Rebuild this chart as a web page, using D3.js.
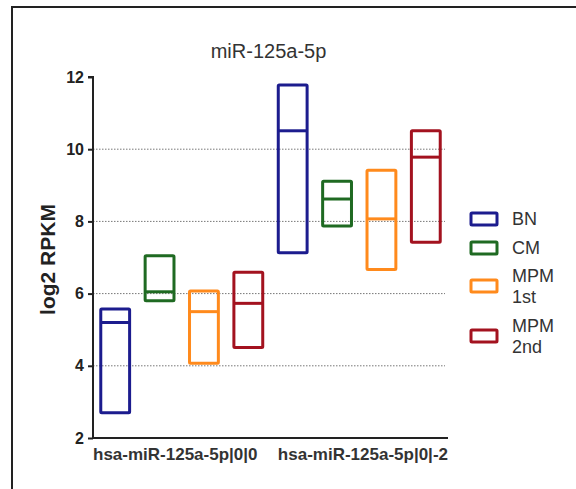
<!DOCTYPE html>
<html>
<head>
<meta charset="utf-8">
<script src="https://cdn.jsdelivr.net/npm/d3@7"></script>
<style>
  html, body { margin: 0; padding: 0; background: #fff; }
  svg text { font-family: "Liberation Sans", Arial, sans-serif; }
</style>
</head>
<body>
<svg id="chart" width="576" height="489"></svg>
<script>
const title = "miR-125a-5p";
const yLabel = "log2 RPKM";
const groups = ["hsa-miR-125a-5p|0|0", "hsa-miR-125a-5p|0|-2"];
const series = ["BN", "CM", "MPM 1st", "MPM 2nd"];
const seriesLegend = [["BN"], ["CM"], ["MPM", "1st"], ["MPM", "2nd"]];
const colors = ["#1c1c8e", "#1f6a22", "#ff8a1c", "#a3121f"];
// per series, per group
const minVals = [[2.70, 7.13], [5.80, 7.87], [4.07, 6.67], [4.51, 7.42]];
const medVals = [[5.20, 10.51], [6.05, 8.62], [5.50, 8.07], [5.73, 9.78]];
const maxVals = [[5.57, 11.78], [7.05, 9.11], [6.07, 9.42], [6.59, 10.51]];
const yTicks = [2, 4, 6, 8, 10, 12];
const gridTicks = [4, 6, 8, 10];

const svg = d3.select("#chart");
const L = 93, R = 448, T = 77, B = 438;

// frame
svg.append("rect").attr("x", 12).attr("y", 7).attr("width", 600).attr("height", 600)
  .attr("fill", "none").attr("stroke", "#222").attr("stroke-width", 2);

const x = d3.scaleBand().domain(groups).range([L, R]).padding(0);
const xs = d3.scaleBand().domain(series).range([0, x.bandwidth()]).paddingInner(0.35).paddingOuter(0.175);
const y = d3.scaleLinear().domain([2, 12]).range([B, T]);

// grid
svg.append("g").selectAll("line").data(gridTicks).join("line")
  .attr("x1", L).attr("x2", R - 3)
  .attr("y1", d => y(d)).attr("y2", d => y(d))
  .attr("stroke", "#777").attr("stroke-width", 1).attr("stroke-dasharray", "1.5,1.5");

// boxes
const rows = [];
series.forEach((s, si) => groups.forEach((g, gi) => {
  rows.push({ s, si, g, min: minVals[si][gi], med: medVals[si][gi], max: maxVals[si][gi] });
}));
const bg = svg.append("g");
bg.selectAll("rect").data(rows).join("rect")
  .attr("x", d => x(d.g) + xs(d.s))
  .attr("width", xs.bandwidth())
  .attr("y", d => y(d.max))
  .attr("height", d => y(d.min) - y(d.max))
  .attr("fill", "none").attr("stroke", d => colors[d.si]).attr("stroke-width", 3)
  .attr("rx", 1);
bg.selectAll("line").data(rows).join("line")
  .attr("x1", d => x(d.g) + xs(d.s))
  .attr("x2", d => x(d.g) + xs(d.s) + xs.bandwidth())
  .attr("y1", d => y(d.med)).attr("y2", d => y(d.med))
  .attr("stroke", d => colors[d.si]).attr("stroke-width", 3);

// y axis
const yAxis = svg.append("g").attr("transform", `translate(${L},0)`)
  .call(d3.axisLeft(y).tickValues(yTicks).tickSize(5).tickPadding(4).tickFormat(d3.format("d")));
yAxis.select(".domain").attr("stroke", "#222").attr("stroke-width", 2).attr("d", `M-5,${T}H0V${B}`);
yAxis.selectAll(".tick line").attr("stroke", "#222").attr("stroke-width", 2);
yAxis.selectAll(".tick text").attr("font-size", 16).attr("font-weight", "bold").attr("fill", "#222")
  .style("font-family", '"Liberation Sans", Arial, sans-serif');

// x axis
const xAxis = svg.append("g").attr("transform", `translate(0,${B})`)
  .call(d3.axisBottom(x).tickSize(0).tickPadding(10));
xAxis.select(".domain").attr("stroke", "#222").attr("stroke-width", 2).attr("d", `M${L},0H${R}`);
xAxis.selectAll(".tick text").attr("font-size", 17).attr("font-weight", "bold").attr("fill", "#333")
  .style("font-family", '"Liberation Sans", Arial, sans-serif')
  .attr("text-anchor", (d, i) => i === 0 ? "start" : "end")
  .attr("x", (d, i) => i === 0 ? L - x(d) - x.bandwidth() / 2 : R - x(d) - x.bandwidth() / 2);

// title
svg.append("text").attr("x", (L + R) / 2 - 2).attr("y", 58).attr("text-anchor", "middle")
  .attr("font-size", 20).attr("fill", "#333").text(title);

// y label
svg.append("text").attr("transform", `translate(55,${(T + B) / 2 + 2}) rotate(-90)`)
  .attr("text-anchor", "middle").attr("font-size", 21).attr("font-weight", "bold").attr("fill", "#222")
  .text(yLabel);

// legend
const legY = [219, 248, 286, 336];
const lg = svg.append("g");
seriesLegend.forEach((lines, i) => {
  lg.append("rect").attr("x", 471).attr("y", legY[i] - 6).attr("width", 26).attr("height", 12)
    .attr("fill", "none").attr("stroke", colors[i]).attr("stroke-width", 3).attr("rx", 1);
  const t = lg.append("text").attr("x", 512).attr("font-size", 18).attr("fill", "#333");
  const lh = 21;
  const y0 = legY[i] + 6 - (lines.length - 1) * lh / 2;
  lines.forEach((ln, j) => t.append("tspan").attr("x", 512).attr("y", y0 + j * lh).text(ln));
});
</script>
</body>
</html>
